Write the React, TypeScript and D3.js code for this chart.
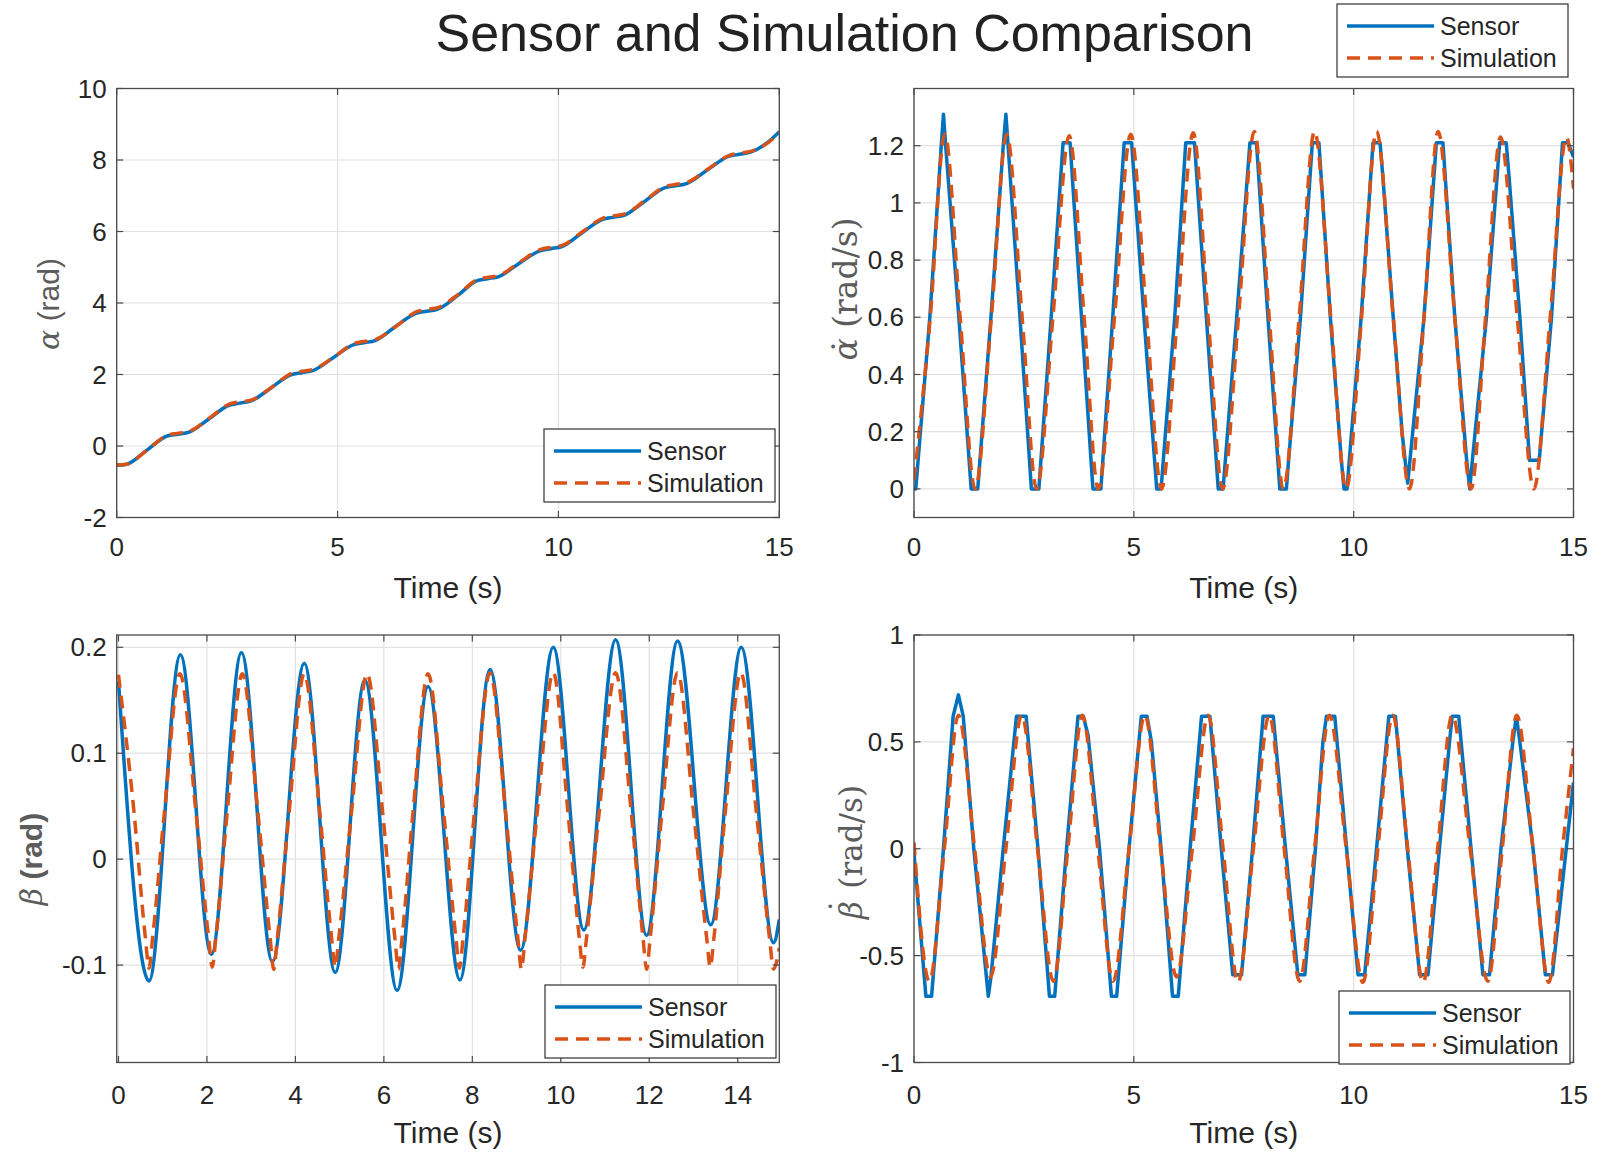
import React from "react";
import * as d3 from "d3";

type Pt = [number, number];

const SENSOR_COLOR = "#0072BD";
const SIM_COLOR = "#D95319";

const seriesNames = ["Sensor", "Simulation"];
const figureTitle = "Sensor and Simulation Comparison";
const xLabelText = "Time (s)";

const timeTicksA = [0, 5, 10, 15];
const timeTicksB = [0, 2, 4, 6, 8, 10, 12, 14];
const alphaTicks = [-2, 0, 2, 4, 6, 8, 10];
const alphaDotTicks = [0, 0.2, 0.4, 0.6, 0.8, 1, 1.2];
const betaTicks = [-0.1, 0, 0.1, 0.2];
const betaDotTicks = [-1, -0.5, 0, 0.5, 1];

// alpha (rad) — sensor
const alphaSensor: Pt[] = [
  [0, -0.54], [0.2, -0.52], [0.7, -0.1], [1.14, 0.28], [1.39, 0.33], [1.64, 0.39],
  [2.1, 0.77], [2.54, 1.14], [2.79, 1.2], [3.04, 1.26], [3.5, 1.63], [3.94, 1.99],
  [4.19, 2.05], [4.44, 2.11], [4.9, 2.47], [5.35, 2.83], [5.6, 2.89], [5.85, 2.95],
  [6.3, 3.33], [6.77, 3.71], [7.02, 3.77], [7.27, 3.83], [7.73, 4.22], [8.15, 4.62],
  [8.4, 4.68], [8.65, 4.74], [9.1, 5.1], [9.58, 5.46], [9.83, 5.52], [10.08, 5.58],
  [10.53, 5.96], [11.0, 6.34], [11.25, 6.4], [11.5, 6.46], [11.95, 6.84], [12.4, 7.22],
  [12.65, 7.28], [12.9, 7.34], [13.37, 7.72], [13.85, 8.1], [14.1, 8.16], [14.35, 8.22],
  [14.84, 8.6], [15, 8.79],
];
// alpha (rad) — simulation
const alphaSim: Pt[] = [
  [0, -0.53], [0.22, -0.51], [0.72, -0.08], [1.16, 0.31], [1.41, 0.36], [1.66, 0.42],
  [2.12, 0.8], [2.56, 1.18], [2.81, 1.24], [3.06, 1.29], [3.53, 1.66], [3.96, 2.03],
  [4.21, 2.09], [4.46, 2.15], [4.93, 2.5], [5.38, 2.87], [5.63, 2.93], [5.88, 2.99],
  [6.35, 3.37], [6.79, 3.76], [7.04, 3.82], [7.29, 3.88], [7.75, 4.26], [8.17, 4.66],
  [8.42, 4.72], [8.67, 4.78], [9.12, 5.14], [9.6, 5.5], [9.85, 5.56], [10.1, 5.62],
  [10.55, 6.0], [11.02, 6.38], [11.27, 6.44], [11.52, 6.5], [11.97, 6.88], [12.42, 7.26],
  [12.67, 7.32], [12.92, 7.38], [13.39, 7.75], [13.87, 8.13], [14.12, 8.19], [14.37, 8.25],
  [14.86, 8.6], [15, 8.78],
];

// alpha-dot (rad/s) — sensor
const alphaDotSensor: Pt[] = [
  [0, 0], [0.04, 0], [0.36, 0.6], [0.62, 1.2], [0.67, 1.31], [0.72, 1.2], [1.02, 0.6], [1.3, 0], [1.45, 0],
  [1.75, 0.6], [2.03, 1.2], [2.09, 1.31], [2.14, 1.2], [2.41, 0.6], [2.67, 0], [2.84, 0],
  [3.12, 0.6], [3.39, 1.21], [3.55, 1.21], [3.81, 0.6], [4.07, 0], [4.25, 0],
  [4.52, 0.6], [4.78, 1.21], [4.95, 1.21], [5.23, 0.6], [5.52, 0], [5.62, 0], [5.67, 0.1],
  [5.93, 0.6], [6.18, 1.21], [6.38, 1.21], [6.65, 0.6], [6.92, 0], [7.03, 0],
  [7.34, 0.6], [7.64, 1.21], [7.79, 1.21], [8.05, 0.6], [8.32, 0], [8.47, 0], [8.52, 0.1],
  [8.79, 0.6], [9.06, 1.21], [9.21, 1.21], [9.47, 0.6], [9.72, 0.1], [9.78, 0], [9.85, 0], [9.9, 0.1],
  [10.17, 0.6], [10.44, 1.21], [10.6, 1.21], [10.66, 1.1], [10.9, 0.6], [11.1, 0.2], [11.17, 0.1], [11.23, 0.02], [11.28, 0.1],
  [11.6, 0.6], [11.88, 1.21], [12.03, 1.21], [12.3, 0.6], [12.57, 0.1], [12.64, 0], [12.7, 0.1],
  [13.02, 0.6], [13.32, 1.21], [13.47, 1.21], [13.53, 1.1], [13.78, 0.6], [14.0, 0.1], [14.22, 0.1],
  [14.5, 0.6], [14.75, 1.21], [14.88, 1.21], [15, 1.16],
];
// alpha-dot (rad/s) — simulation
const alphaDotSim: Pt[] = [
  [0, 0.03], [0.37, 0.6], [0.7, 1.24], [1.05, 0.6], [1.39, 0],
  [1.76, 0.6], [2.11, 1.24], [2.46, 0.6], [2.79, 0],
  [3.16, 0.6], [3.53, 1.235], [3.87, 0.6], [4.19, 0],
  [4.56, 0.6], [4.93, 1.24], [5.29, 0.6], [5.63, 0],
  [5.99, 0.6], [6.35, 1.245], [6.69, 0.6], [7.02, 0],
  [7.38, 0.6], [7.74, 1.25], [8.08, 0.6], [8.4, 0],
  [8.76, 0.6], [9.11, 1.25], [9.48, 0.6], [9.83, 0],
  [10.18, 0.6], [10.52, 1.25], [10.9, 0.6], [11.27, 0],
  [11.6, 0.6], [11.92, 1.25], [12.3, 0.6], [12.67, 0],
  [13.0, 0.6], [13.34, 1.23], [13.72, 0.6], [14.1, 0],
  [14.47, 0.6], [14.84, 1.23], [15, 1.05],
];

// beta (rad) — sensor
const betaSensor: Pt[] = [
  [0, 0.168], [0.69, -0.115], [1.4, 0.193], [2.1, -0.09], [2.78, 0.195], [3.48, -0.097],
  [4.2, 0.185], [4.9, -0.107], [5.57, 0.169], [6.3, -0.124], [7.0, 0.163], [7.72, -0.114],
  [8.4, 0.179], [9.09, -0.086], [9.83, 0.2], [10.52, -0.067], [11.24, 0.207], [11.94, -0.072],
  [12.64, 0.206], [13.39, -0.062], [14.08, 0.2], [14.81, -0.079], [14.94, -0.057],
];
// beta (rad) — simulation
const betaSim: Pt[] = [
  [0, 0.174], [0.35, 0.045], [0.61, -0.075], [0.69, -0.103], [0.77, -0.075], [1.04, 0.045], [1.39, 0.175],
  [1.75, 0.045], [2.04, -0.075], [2.12, -0.102], [2.2, -0.075], [2.46, 0.045], [2.8, 0.175],
  [3.15, 0.045], [3.43, -0.075], [3.51, -0.104], [3.59, -0.075], [3.86, 0.045], [4.2, 0.175],
  [4.55, 0.045], [4.82, -0.075], [4.9, -0.102], [4.98, -0.075], [5.27, 0.045], [5.62, 0.175],
  [5.97, 0.045], [6.25, -0.075], [6.33, -0.104], [6.41, -0.075], [6.66, 0.045], [7.0, 0.175],
  [7.35, 0.045], [7.63, -0.075], [7.71, -0.103], [7.79, -0.075], [8.05, 0.045], [8.4, 0.176],
  [8.75, 0.045], [9.03, -0.075], [9.11, -0.104], [9.19, -0.075], [9.47, 0.045], [9.83, 0.176],
  [10.16, 0.045], [10.42, -0.075], [10.5, -0.102], [10.58, -0.075], [10.87, 0.045], [11.24, 0.176],
  [11.59, 0.045], [11.86, -0.075], [11.94, -0.104], [12.02, -0.075], [12.29, 0.045], [12.64, 0.176],
  [13.0, 0.045], [13.3, -0.075], [13.38, -0.102], [13.46, -0.075], [13.72, 0.045], [14.07, 0.176],
  [14.42, 0.045], [14.72, -0.075], [14.81, -0.104], [14.94, -0.084],
];

// beta-dot (rad/s) — sensor
const betaDotSensor: Pt[] = [
  [0, -0.02], [0.27, -0.69], [0.4, -0.69], [0.67, 0], [0.89, 0.62], [1.01, 0.72], [1.12, 0.62], [1.36, 0],
  [1.69, -0.69], [1.75, -0.6], [2.03, 0], [2.33, 0.62], [2.55, 0.62], [2.82, 0],
  [3.08, -0.69], [3.2, -0.69], [3.47, 0], [3.73, 0.62], [3.85, 0.62], [3.96, 0.53], [4.22, 0],
  [4.49, -0.69], [4.61, -0.69], [4.89, 0], [5.17, 0.62], [5.3, 0.62], [5.4, 0.5], [5.62, 0],
  [5.88, -0.69], [6.01, -0.69], [6.28, 0], [6.54, 0.62], [6.73, 0.62], [6.99, 0],
  [7.25, -0.59], [7.45, -0.59], [7.7, 0], [7.94, 0.62], [8.17, 0.62], [8.45, 0],
  [8.73, -0.59], [8.89, -0.59], [9.13, 0], [9.3, 0.5], [9.38, 0.62], [9.57, 0.62], [9.84, 0],
  [10.1, -0.59], [10.25, -0.59], [10.52, 0], [10.8, 0.62], [10.95, 0.62], [11.22, 0],
  [11.5, -0.59], [11.69, -0.59], [11.95, 0], [12.18, 0.5], [12.24, 0.62], [12.39, 0.62], [12.67, 0],
  [12.94, -0.59], [13.09, -0.59], [13.35, 0], [13.62, 0.5], [13.7, 0.62], [13.78, 0.5], [14.08, 0],
  [14.36, -0.59], [14.52, -0.59], [15, 0.31],
];
// beta-dot (rad/s) — simulation
const betaDotSim: Pt[] = [
  [0, 0.03], [0.35, -0.62], [0.69, 0], [1.01, 0.625], [1.38, 0], [1.74, -0.6], [2.09, 0], [2.45, 0.625],
  [2.81, 0], [3.17, -0.62], [3.5, 0], [3.83, 0.625], [4.18, 0], [4.53, -0.62], [4.89, 0], [5.25, 0.625],
  [5.61, 0], [5.97, -0.6], [6.33, 0], [6.69, 0.625], [7.03, 0], [7.37, -0.625], [7.72, 0], [8.08, 0.625],
  [8.42, 0], [8.77, -0.62], [9.11, 0], [9.45, 0.625], [9.83, 0], [10.21, -0.625], [10.55, 0], [10.89, 0.625],
  [11.23, 0], [11.58, -0.625], [11.91, 0], [12.24, 0.625], [12.65, 0], [13.05, -0.62], [13.38, 0], [13.71, 0.625],
  [14.08, 0], [14.44, -0.625], [14.75, 0], [15, 0.47],
];

const SANS = "'Liberation Sans', Arial, Helvetica, sans-serif";
const SERIF = "'DejaVu Serif', 'Liberation Serif', serif";
const TEXT_COLOR = "#262626";
const LABEL_COLOR = "#5c5c5c";
const LINE_W = 3.5;

interface Box { x0: number; x1: number; y0: number; y1: number }

function Legend({ x, y }: { x: number; y: number }) {
  const w = 231;
  const h = 73;
  return (
    <g>
      <rect x={x} y={y} width={w} height={h} fill="#fff" stroke="#303030" strokeWidth={1.2} />
      <line x1={x + 10} x2={x + 97} y1={y + 22} y2={y + 22} stroke={SENSOR_COLOR} strokeWidth={LINE_W} />
      <text x={x + 103} y={y + 22} dominantBaseline="central" fontFamily={SANS} fontSize={25} fill={TEXT_COLOR}>
        {seriesNames[0]}
      </text>
      <line x1={x + 10} x2={x + 97} y1={y + 54} y2={y + 54} stroke={SIM_COLOR} strokeWidth={LINE_W} strokeDasharray="13 8" />
      <text x={x + 103} y={y + 54} dominantBaseline="central" fontFamily={SANS} fontSize={25} fill={TEXT_COLOR}>
        {seriesNames[1]}
      </text>
    </g>
  );
}

interface PanelProps {
  id: string;
  box: Box;
  xDomain: [number, number];
  yDomain: [number, number];
  xTicks: number[];
  yTicks: number[];
  sensor: Pt[];
  sim: Pt[];
  sensorCurve: d3.CurveFactory;
  simCurve: d3.CurveFactory;
  tickLabelOffset: number;
  legend?: { x: number; y: number };
  yLabel: React.ReactNode;
}

function Panel(p: PanelProps) {
  const { box } = p;
  const x = d3.scaleLinear().domain(p.xDomain).range([box.x0, box.x1]);
  const y = d3.scaleLinear().domain(p.yDomain).range([box.y1, box.y0]);
  const lineSensor = d3.line<Pt>().x((d) => x(d[0])).y((d) => y(d[1])).curve(p.sensorCurve);
  const lineSim = d3.line<Pt>().x((d) => x(d[0])).y((d) => y(d[1])).curve(p.simCurve);
  const tl = 6.5;
  const w = box.x1 - box.x0;
  const h = box.y1 - box.y0;
  return (
    <g>
      <defs>
        <clipPath id={p.id}>
          <rect x={box.x0} y={box.y0} width={w} height={h} />
        </clipPath>
      </defs>
      <rect x={box.x0} y={box.y0} width={w} height={h} fill="#fff" />
      {p.xTicks.map((t) => (
        <line key={"gx" + t} x1={x(t)} x2={x(t)} y1={box.y0} y2={box.y1} stroke="#e2e2e2" strokeWidth={1.2} />
      ))}
      {p.yTicks.map((t) => (
        <line key={"gy" + t} x1={box.x0} x2={box.x1} y1={y(t)} y2={y(t)} stroke="#e2e2e2" strokeWidth={1.2} />
      ))}
      <g clipPath={`url(#${p.id})`}>
        <path d={lineSensor(p.sensor) || ""} fill="none" stroke={SENSOR_COLOR} strokeWidth={LINE_W} strokeLinejoin="round" />
        <path d={lineSim(p.sim) || ""} fill="none" stroke={SIM_COLOR} strokeWidth={LINE_W} strokeDasharray="13 8" />
      </g>
      <rect x={box.x0} y={box.y0} width={w} height={h} fill="none" stroke="#4a4a4a" strokeWidth={1.3} />
      {p.xTicks.map((t) => (
        <g key={"tx" + t}>
          <line x1={x(t)} x2={x(t)} y1={box.y1} y2={box.y1 - tl} stroke="#4a4a4a" strokeWidth={1.2} />
          <line x1={x(t)} x2={x(t)} y1={box.y0} y2={box.y0 + tl} stroke="#4a4a4a" strokeWidth={1.2} />
          <text x={x(t)} y={box.y1 + p.tickLabelOffset} textAnchor="middle" dominantBaseline="central" fontFamily={SANS} fontSize={26} fill={TEXT_COLOR}>
            {String(t)}
          </text>
        </g>
      ))}
      {p.yTicks.map((t) => (
        <g key={"ty" + t}>
          <line x1={box.x0} x2={box.x0 + tl} y1={y(t)} y2={y(t)} stroke="#4a4a4a" strokeWidth={1.2} />
          <line x1={box.x1} x2={box.x1 - tl} y1={y(t)} y2={y(t)} stroke="#4a4a4a" strokeWidth={1.2} />
          <text x={box.x0 - 10} y={y(t)} textAnchor="end" dominantBaseline="central" fontFamily={SANS} fontSize={26} fill={TEXT_COLOR}>
            {String(t)}
          </text>
        </g>
      ))}
      <text x={(box.x0 + box.x1) / 2} y={box.y1 + 70} textAnchor="middle" dominantBaseline="central" fontFamily={SANS} fontSize={30} fill={TEXT_COLOR}>
        {xLabelText}
      </text>
      {p.yLabel}
      {p.legend && <Legend x={p.legend.x} y={p.legend.y} />}
    </g>
  );
}

const left: [number, number] = [116.7, 779.3];
const right: [number, number] = [914, 1573.5];
const top: [number, number] = [88.5, 517.5];
const bottom: [number, number] = [635, 1062.5];

export default function App() {
  return (
    <svg
      width={1609}
      height={1153}
      viewBox="0 0 1609 1153"
      style={{ position: "absolute", left: 0, top: 0, display: "block", background: "#fff" }}
    >
      <rect x={0} y={0} width={1609} height={1153} fill="#fff" />
      <text x={844.5} y={51} textAnchor="middle" fontFamily={SANS} fontSize={52} fill="#222">
        {figureTitle}
      </text>

      <Panel
        id="clipA"
        box={{ x0: left[0], x1: left[1], y0: top[0], y1: top[1] }}
        xDomain={[0, 15]}
        yDomain={[-2, 10]}
        xTicks={timeTicksA}
        yTicks={alphaTicks}
        sensor={alphaSensor}
        sim={alphaSim}
        sensorCurve={d3.curveMonotoneX}
        simCurve={d3.curveMonotoneX}
        tickLabelOffset={29}
        legend={{ x: 544, y: 429 }}
        yLabel={
          <text transform="translate(48,304) rotate(-90)" textAnchor="middle" dominantBaseline="central" fontSize={30} fill={LABEL_COLOR}>
            <tspan fontFamily={SERIF} fontStyle="italic">α</tspan>
            <tspan fontFamily={SANS}> (rad)</tspan>
          </text>
        }
      />

      <Panel
        id="clipB"
        box={{ x0: right[0], x1: right[1], y0: top[0], y1: top[1] }}
        xDomain={[0, 15]}
        yDomain={[-0.1, 1.4]}
        xTicks={timeTicksA}
        yTicks={alphaDotTicks}
        sensor={alphaDotSensor}
        sim={alphaDotSim}
        sensorCurve={d3.curveLinear}
        simCurve={d3.curveMonotoneX}
        tickLabelOffset={29}
        yLabel={
          <text transform="translate(845,289) rotate(-90)" textAnchor="middle" dominantBaseline="central" fontSize={33} fill={LABEL_COLOR} fontFamily={SERIF}>
            <tspan fontStyle="italic">α</tspan>
            <tspan dx="-0.5em">˙</tspan>
            <tspan>{"  (rad/s)"}</tspan>
          </text>
        }
      />

      <Panel
        id="clipC"
        box={{ x0: left[0], x1: left[1], y0: bottom[0], y1: bottom[1] }}
        xDomain={[-0.04, 14.94]}
        yDomain={[-0.192, 0.2116]}
        xTicks={timeTicksB}
        yTicks={betaTicks}
        sensor={betaSensor}
        sim={betaSim}
        sensorCurve={d3.curveMonotoneX}
        simCurve={d3.curveMonotoneX}
        tickLabelOffset={32}
        legend={{ x: 545, y: 985 }}
        yLabel={
          <text transform="translate(31,859) rotate(-90)" textAnchor="middle" dominantBaseline="central" fontSize={30} fill={LABEL_COLOR}>
            <tspan fontFamily={SERIF} fontStyle="italic">β</tspan>
            <tspan fontFamily={SANS} fontWeight="bold"> (rad)</tspan>
          </text>
        }
      />

      <Panel
        id="clipD"
        box={{ x0: right[0], x1: right[1], y0: bottom[0], y1: bottom[1] }}
        xDomain={[0, 15]}
        yDomain={[-1, 1]}
        xTicks={timeTicksA}
        yTicks={betaDotTicks}
        sensor={betaDotSensor}
        sim={betaDotSim}
        sensorCurve={d3.curveLinear}
        simCurve={d3.curveMonotoneX}
        tickLabelOffset={32}
        legend={{ x: 1339, y: 991 }}
        yLabel={
          <text transform="translate(851,852) rotate(-90)" textAnchor="middle" dominantBaseline="central" fontSize={31} fill={LABEL_COLOR} fontFamily={SERIF}>
            <tspan fontStyle="italic">β</tspan>
            <tspan dx="-0.42em" dy="-0.3em">˙</tspan>
            <tspan dy="0.3em">{"  (rad/s)"}</tspan>
          </text>
        }
      />

      <Legend x={1337} y={4} />
    </svg>
  );
}
